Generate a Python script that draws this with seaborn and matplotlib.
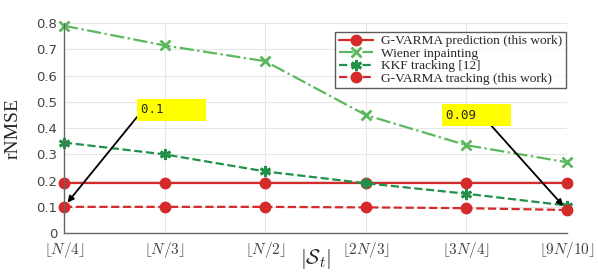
import numpy as np
import pandas as pd
import matplotlib
matplotlib.use("Agg")
import matplotlib.pyplot as plt
import seaborn as sns

# values
sizes = [r"$\lfloor N/4\rfloor$", r"$\lfloor N/3\rfloor$", r"$\lfloor N/2\rfloor$",
         r"$\lfloor 2N/3\rfloor$", r"$\lfloor 3N/4\rfloor$", r"$\lfloor 9N/10\rfloor$"]
gvarma_pred = [0.19, 0.19, 0.19, 0.19, 0.19, 0.19]
wiener = [0.79, 0.715, 0.655, 0.45, 0.335, 0.27]
kkf = [0.345, 0.30, 0.235, 0.19, 0.15, 0.105]
gvarma_track = [0.10, 0.10, 0.10, 0.098, 0.095, 0.088]
yticks = [0, 0.1, 0.2, 0.3, 0.4, 0.5, 0.6, 0.7, 0.8]

sns.set_style("whitegrid")
plt.rcParams["mathtext.fontset"] = "cm"

df = pd.DataFrame({"pos": np.arange(len(sizes))})

fig = plt.figure(figsize=(5.98, 2.72), dpi=100)
ax = fig.add_axes([0.107, 0.143, 0.841, 0.772])

red = "#d42a2a"
lgreen = "#5cb85c"
dgreen = "#21914a"

sns.lineplot(x=df["pos"], y=gvarma_pred, ax=ax, color=red, lw=1.6, marker="o", ms=7.5,
             mec=red, mew=1, label="G-VARMA prediction (this work)", clip_on=False)
sns.lineplot(x=df["pos"], y=wiener, ax=ax, color=lgreen, lw=1.6, ls="-.", marker="x", ms=7,
             mec=lgreen, mew=2, label="Wiener inpainting", clip_on=False)
sns.lineplot(x=df["pos"], y=kkf, ax=ax, color=dgreen, lw=1.6, ls="--", marker=(6, 2, 0), ms=8,
             mec=dgreen, mew=2, label="KKF tracking [12]", clip_on=False)
sns.lineplot(x=df["pos"], y=gvarma_track, ax=ax, color=red, lw=1.6, ls="--", marker="o", ms=7.5,
             mec=red, mew=1, label="G-VARMA tracking (this work)", clip_on=False)

ax.set_xlim(0, len(sizes) - 1)
ax.set_ylim(0, 0.8)
ax.set_xticks(df["pos"])
ax.set_xticklabels(sizes, fontsize=11, color="#444444")
ax.set_yticks(yticks)
ax.set_yticklabels([f"{t:g}" for t in yticks], fontsize=9.5, color="#444444")
ax.tick_params(axis="x", pad=2, length=3)
ax.tick_params(axis="y", pad=2, length=3)
ax.grid(True, color="#e6e6e6", lw=0.8)
for s in ["top", "right"]:
    ax.spines[s].set_visible(False)
for s in ["left", "bottom"]:
    ax.spines[s].set_color("#666666")
    ax.spines[s].set_linewidth(1.0)

ax.set_ylabel("rNMSE", family="Liberation Serif", fontsize=14)
ax.yaxis.set_label_coords(-0.085, 0.5)
ax.set_xlabel(r"$|\mathcal{S}_t|$", fontsize=15)
ax.xaxis.set_label_coords(0.5, -0.125)
ax.xaxis.label.set_va("center")

leg = ax.legend(loc="upper right", bbox_to_anchor=(0.998, 0.96), borderaxespad=0, frameon=True,
                fancybox=False, prop={"family": "Liberation Serif", "size": 9.6},
                handlelength=2.6, borderpad=0.25, labelspacing=0.02, handletextpad=0.6)
leg.get_frame().set_edgecolor("#333333")
leg.get_frame().set_linewidth(1.0)

box = dict(boxstyle="square,pad=0.35", fc="yellow", ec="none")
ax.annotate("0.1     ", xy=(0, gvarma_track[0]), xytext=(0.77, 0.445), family="DejaVu Sans Mono",
            fontsize=9, bbox=box, va="bottom", ha="left",
            arrowprops=dict(arrowstyle="-|>", color="black", lw=1.3, shrinkA=0, shrinkB=4,
                            relpos=(-0.02, 0.25)))
ax.annotate("0.09    ", xy=(5, gvarma_track[5]), xytext=(3.8, 0.425), family="DejaVu Sans Mono",
            fontsize=9, bbox=box, va="bottom", ha="left",
            arrowprops=dict(arrowstyle="-|>", color="black", lw=1.3, shrinkA=0, shrinkB=4,
                            relpos=(0.7, -0.05)))

fig.savefig("out.png", dpi=100)
